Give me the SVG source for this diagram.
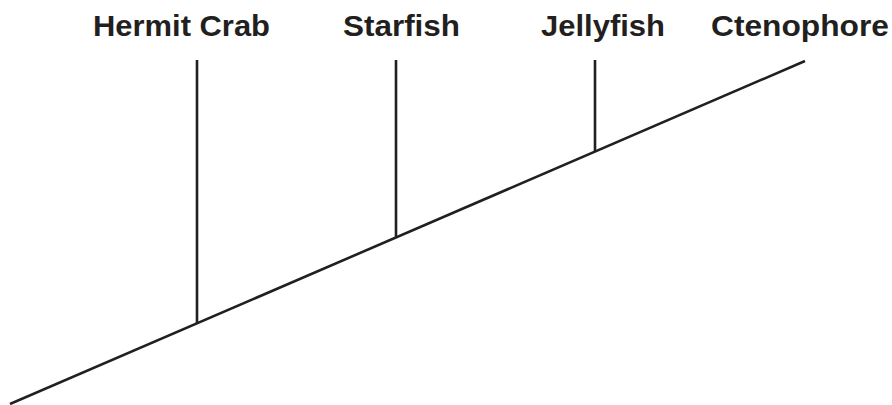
<svg xmlns="http://www.w3.org/2000/svg" width="892" height="405" viewBox="0 0 892 405">
<style>
.lbl{font-family:"Liberation Sans",Arial,sans-serif;font-weight:bold;font-size:29.5px;fill:#231f20}
.ln{stroke:#231f20;stroke-width:2.6;fill:none;stroke-linecap:butt}
</style>
<rect width="892" height="405" fill="#ffffff"/>
<g id="connectors">
<line class="ln" x1="10" y1="404" x2="805" y2="61"/>
<line class="ln" x1="197" y1="60" x2="197" y2="323.5"/>
<line class="ln" x1="396" y1="60" x2="396" y2="237.5"/>
<line class="ln" x1="595" y1="60" x2="595" y2="152"/>
</g>
<g id="hermit-crab"><text class="lbl" x="93" y="36" textLength="177" lengthAdjust="spacingAndGlyphs">Hermit Crab</text></g>
<g id="starfish"><text class="lbl" x="343" y="36" textLength="117" lengthAdjust="spacingAndGlyphs">Starfish</text></g>
<g id="jellyfish"><text class="lbl" x="541" y="36" textLength="124" lengthAdjust="spacingAndGlyphs">Jellyfish</text></g>
<g id="ctenophore"><text class="lbl" x="711" y="36" textLength="178" lengthAdjust="spacingAndGlyphs">Ctenophore</text></g>
</svg>
